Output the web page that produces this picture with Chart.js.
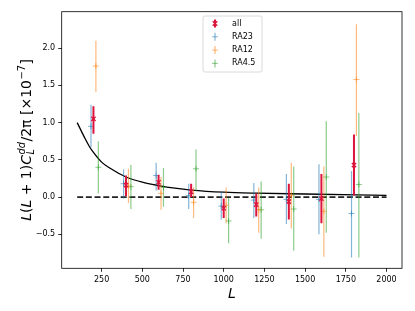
<!doctype html>
<html lang="en">
<head>
<meta charset="utf-8">
<title>Cdd bandpowers</title>
<style>
  * { margin: 0; padding: 0; }
  body { background: #fff; }
  .chartBox { width: 415px; height: 311px; }
</style>
</head>
<body>
<div class="chartBox"><canvas id="myChart"></canvas></div>
<script src="https://cdn.jsdelivr.net/npm/chart.js"></script>
<script>
// band centres (L)
const bandL = [200, 400, 600, 800, 1000, 1200, 1400, 1600, 1800];

// "all" combined
const allMid = [1.05, 0.16, 0.20, 0.07, -0.15, -0.10, -0.06, -0.02, 0.43];
const allLo  = [0.85, 0.01, 0.10, 0.00, -0.28, -0.26, -0.30, -0.35, 0.02];
const allHi  = [1.22, 0.29, 0.30, 0.18, -0.02, 0.05, 0.18, 0.31, 0.84];

// RA23
const ra23Mid = [0.95, 0.18, 0.29, 0.02, -0.12, -0.04, -0.03, -0.03, -0.22];
const ra23Lo  = [0.67, -0.02, 0.09, -0.16, -0.30, -0.28, -0.36, -0.50, -0.81];
const ra23Hi  = [1.24, 0.37, 0.46, 0.18, 0.07, 0.19, 0.31, 0.44, 0.35];

// RA12
const ra12Mid = [1.76, 0.15, 0.05, -0.07, -0.11, -0.17, 0.02, -0.19, 1.58];
const ra12Lo  = [1.41, -0.08, -0.17, -0.28, -0.35, -0.48, -0.42, -0.80, 0.82];
const ra12Hi  = [2.10, 0.38, 0.27, 0.13, 0.13, 0.13, 0.46, 0.41, 2.32];

// RA4.5
const ra45Mid = [0.40, 0.14, 0.13, 0.38, -0.32, -0.17, -0.16, 0.27, 0.17];
const ra45Lo  = [0.05, -0.16, -0.13, 0.08, -0.62, -0.56, -0.72, -0.48, -0.81];
const ra45Hi  = [0.75, 0.43, 0.39, 0.64, -0.01, 0.21, 0.41, 1.02, 1.13];

// theory curve
const theoryL = [100, 125, 150, 175, 200, 250, 300, 400, 500, 600, 700, 800, 1000, 1200, 1500, 2000];
const theoryV = [1.00, 0.89, 0.78, 0.68, 0.60, 0.47, 0.39, 0.27, 0.20, 0.155, 0.12, 0.095, 0.066, 0.053, 0.042, 0.024];

// zero line ends
const zeroL = [100, 2000];

const xTicks = [250, 500, 750, 1000, 1250, 1500, 1750, 2000];
const yTicks = [-0.5, 0.0, 0.5, 1.0, 1.5, 2.0];

const series = [
  {label: 'all',   mid: allMid,  lo: allLo,  hi: allHi,  shift: 0,   color: 'rgb(220,20,60)',        lw: 2,   marker: 'crossRot'},
  {label: 'RA23',  mid: ra23Mid, lo: ra23Lo, hi: ra23Hi, shift: -15, color: 'rgba(31,119,180,0.55)', lw: 1.2, marker: 'cross'},
  {label: 'RA12',  mid: ra12Mid, lo: ra12Lo, hi: ra12Hi, shift: 15,  color: 'rgba(255,127,14,0.55)', lw: 1.2, marker: 'cross'},
  {label: 'RA4.5', mid: ra45Mid, lo: ra45Lo, hi: ra45Hi, shift: 30,  color: 'rgba(44,160,44,0.55)',  lw: 1.2, marker: 'cross'}
];

// build datasets: error bars as broken lines, markers as points
const datasets = [];
series.forEach((s, k) => {
  const bars = [];
  bandL.forEach((L, i) => {
    bars.push({x: L + s.shift, y: s.lo[i]});
    bars.push({x: L + s.shift, y: s.hi[i]});
    bars.push({x: L + s.shift, y: null});
  });
  datasets.push({
    data: bandL.map((L, i) => ({x: L + s.shift, y: s.mid[i]})),
    pointStyle: s.marker, pointRadius: 3, borderColor: s.color, backgroundColor: s.color,
    pointBorderWidth: k === 0 ? 1.3 : 1, order: k * 2
  });
  datasets.push({
    data: bars, showLine: true, spanGaps: false, pointRadius: 0,
    borderColor: s.color, borderWidth: s.lw, order: k * 2 + 1
  });
});
datasets.push({
  data: theoryL.map((L, i) => ({x: L, y: theoryV[i]})),
  showLine: true, pointRadius: 0, borderColor: '#000', borderWidth: 1.3,
  cubicInterpolationMode: 'monotone', order: 20
});
datasets.push({
  data: zeroL.map(L => ({x: L, y: 0})),
  showLine: true, pointRadius: 0, borderColor: '#222', borderWidth: 1.6,
  borderDash: [6, 2.7], order: 21
});

const FONT = 'DejaVu Sans';

// frame, axis labels and legend box
const decor = {
  id: 'decor',
  afterDraw(chart) {
    const ctx = chart.ctx;
    const a = chart.chartArea;
    ctx.save();
    ctx.strokeStyle = '#000';
    ctx.lineWidth = 0.8;
    ctx.strokeRect(a.left, a.top, a.right - a.left, a.bottom - a.top);

    // x label
    ctx.fillStyle = '#000';
    ctx.font = 'italic 14px ' + FONT;
    ctx.textAlign = 'center';
    ctx.textBaseline = 'alphabetic';
    ctx.fillText('L', (a.left + a.right) / 2, 298);

    // y label with sub/superscripts
    const fs = 14, ss = 9.8;
    const parts = [
      {t: 'L', it: true}, {t: '('}, {t: 'L', it: true}, {t: ' + 1)'}, {t: 'C', it: true},
      {sup: 'dd', sub: 'L'}, {t: '/2π [×10'}, {sup: '−7'}, {t: ']'}
    ];
    const fontOf = (size, it) => (it ? 'italic ' : '') + size + 'px ' + FONT;
    let w = 0;
    parts.forEach(p => {
      if (p.t) { ctx.font = fontOf(fs, p.it); p.w = ctx.measureText(p.t).width; }
      else {
        ctx.font = fontOf(ss, true);
        const w1 = p.sup ? ctx.measureText(p.sup).width : 0;
        const w2 = p.sub ? ctx.measureText(p.sub).width : 0;
        p.w = Math.max(w1, w2) + 1;
      }
      w += p.w;
    });
    ctx.translate(31, (a.top + a.bottom) / 2);
    ctx.rotate(-Math.PI / 2);
    ctx.textAlign = 'left';
    let x = -w / 2;
    parts.forEach(p => {
      if (p.t) { ctx.font = fontOf(fs, p.it); ctx.fillText(p.t, x, 0); }
      else {
        if (p.sup) {
          ctx.font = fontOf(ss, p.sup !== '−7');
          ctx.fillText(p.sup, x + 0.5, -fs * 0.45);
        }
        if (p.sub) { ctx.font = fontOf(ss, true); ctx.fillText(p.sub, x + 0.5, fs * 0.22); }
      }
      x += p.w;
    });
    ctx.restore();

    // legend
    ctx.save();
    const bx = 203, by = 16, bw = 59, bh = 56;
    ctx.beginPath();
    ctx.roundRect(bx, by, bw, bh, 2);
    ctx.fillStyle = 'rgba(255,255,255,0.8)';
    ctx.fill();
    ctx.strokeStyle = '#d0d0d0';
    ctx.lineWidth = 0.8;
    ctx.stroke();
    ctx.font = '8px ' + FONT;
    ctx.textBaseline = 'middle';
    series.forEach((s, i) => {
      const cy = 23.5 + i * 13.3, cx = 215;
      ctx.strokeStyle = s.color;
      ctx.lineWidth = s.lw;
      ctx.beginPath();
      ctx.moveTo(cx, cy - 4); ctx.lineTo(cx, cy + 4);
      ctx.stroke();
      ctx.lineWidth = i === 0 ? 1.3 : 1;
      ctx.beginPath();
      if (i === 0) {
        ctx.moveTo(cx - 2.3, cy - 2.3); ctx.lineTo(cx + 2.3, cy + 2.3);
        ctx.moveTo(cx + 2.3, cy - 2.3); ctx.lineTo(cx - 2.3, cy + 2.3);
      } else {
        ctx.moveTo(cx - 3, cy); ctx.lineTo(cx + 3, cy);
      }
      ctx.stroke();
      ctx.fillStyle = '#000';
      ctx.fillText(s.label, 232, cy);
    });
    ctx.restore();
  }
};

const tickGrid = {display: true, drawOnChartArea: false, drawTicks: true, tickLength: 3.5, color: '#000', tickWidth: 0.8};

const config = {
  type: 'scatter',
  data: {datasets},
  options: {
    responsive: true,
    maintainAspectRatio: false,
    animation: false,
    events: [],
    layout: {padding: {top: 11.7, right: 13, left: 0, bottom: 0}},
    plugins: {legend: {display: false}, tooltip: {enabled: false}},
    scales: {
      x: {
        type: 'linear', min: 5, max: 2095,
        afterBuildTicks: s => { s.ticks = xTicks.map(v => ({value: v})); },
        afterFit: s => { s.height = 42.7; },
        grid: tickGrid, border: {display: false},
        ticks: {color: '#000', padding: 3, font: {family: FONT, size: 8}, maxRotation: 0, callback: v => String(v)}
      },
      y: {
        type: 'linear', min: -0.956, max: 2.49,
        afterBuildTicks: s => { s.ticks = yTicks.map(v => ({value: v})); },
        afterFit: s => { s.width = 61.7; },
        grid: tickGrid, border: {display: false},
        ticks: {color: '#000', padding: 3, font: {family: FONT, size: 8}, callback: v => v.toFixed(1).replace('-', '−')}
      }
    }
  },
  plugins: [decor]
};

const myChart = new Chart(document.getElementById('myChart'), config);
</script>
</body>
</html>
